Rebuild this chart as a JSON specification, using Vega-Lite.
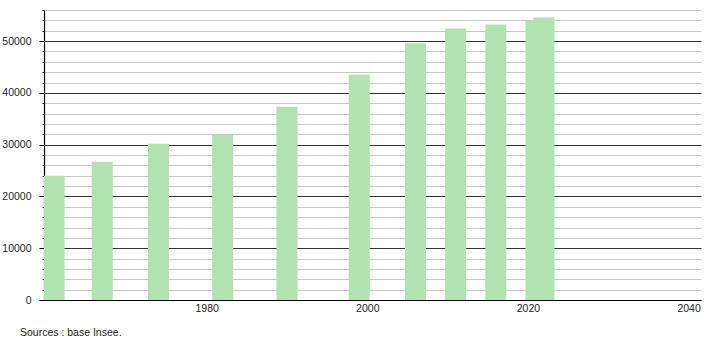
{
  "$schema": "https://vega.github.io/schema/vega-lite/v6.json",
  "width": 657,
  "height": 290,
  "autosize": {"type": "none"},
  "padding": {"left": 44, "top": 10, "right": 9, "bottom": 40},
  "background": "white",
  "config": {
    "view": {"stroke": null},
    "font": "Liberation Sans",
    "axis": {"labelFont": "Liberation Sans", "labelFontSize": 10.5, "labelColor": "#222"}
  },
  "title": {
    "text": "Sources : base Insee.",
    "orient": "bottom",
    "anchor": "start",
    "frame": "group",
    "fontSize": 10.5,
    "fontWeight": "normal",
    "font": "Liberation Sans",
    "color": "#222",
    "dx": -24,
    "offset": 14
  },
  "data": {
    "values": [
      {"year": 1961, "population": 23980},
      {"year": 1967, "population": 26690},
      {"year": 1974, "population": 30170},
      {"year": 1982, "population": 31860},
      {"year": 1990, "population": 37330},
      {"year": 1999, "population": 43520},
      {"year": 2006, "population": 49570},
      {"year": 2011, "population": 52420},
      {"year": 2016, "population": 53190},
      {"year": 2021, "population": 54020},
      {"year": 2022, "population": 54550}
    ]
  },
  "mark": {"type": "bar", "color": "#b0e3b0", "size": 21, "clip": true},
  "encoding": {
    "x": {
      "field": "year",
      "type": "quantitative",
      "scale": {"domain": [1959.75, 2041.55], "nice": false, "zero": false, "padding": 0},
      "axis": {
        "title": null,
        "values": [1980, 2000, 2020, 2040],
        "format": "d",
        "grid": false,
        "ticks": false,
        "domainColor": "#000",
        "domainWidth": 1.2,
        "labelPadding": 3,
        "labelDx": -1
      }
    },
    "y": {
      "field": "population",
      "type": "quantitative",
      "scale": {"domain": [0, 56000], "nice": false},
      "axis": {
        "title": null,
        "values": [0, 2000, 4000, 6000, 8000, 10000, 12000, 14000, 16000, 18000, 20000, 22000, 24000, 26000, 28000, 30000, 32000, 34000, 36000, 38000, 40000, 42000, 44000, 46000, 48000, 50000, 52000, 54000, 56000],
        "format": "d",
        "labelExpr": "datum.value % 10000 === 0 ? datum.label : ''",
        "grid": true,
        "gridColor": {"condition": {"test": "datum.value % 10000 === 0", "value": "#333333"}, "value": "#c8c8c8"},
        "gridWidth": 1,
        "gridOpacity": 1,
        "tickColor": "#000",
        "tickSize": {"condition": {"test": "datum.value % 10000 === 0", "value": 5}, "value": 2},
        "domainColor": "#000",
        "domainWidth": 1.2,
        "labelPadding": 8,
        "labelBound": false
      }
    }
  }
}
